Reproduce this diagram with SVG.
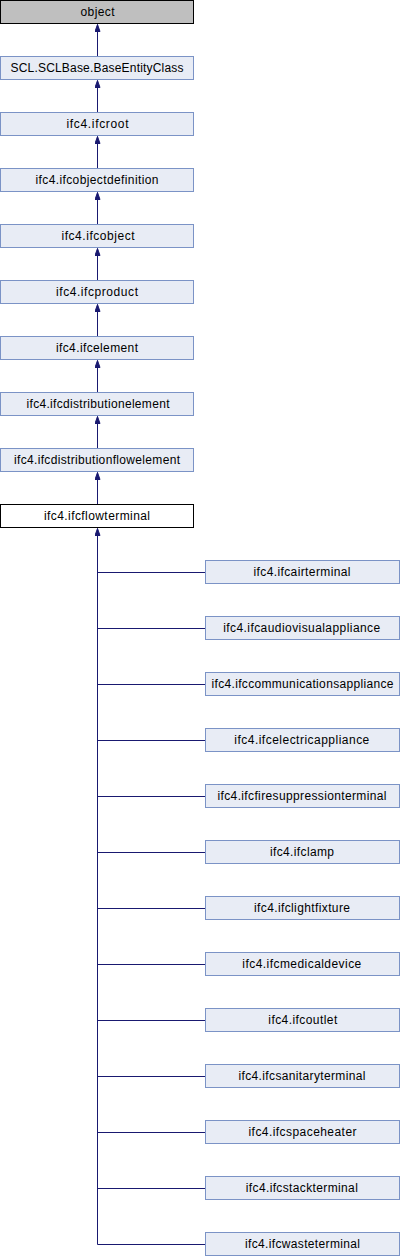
<svg xmlns="http://www.w3.org/2000/svg" width="400" height="1256" viewBox="0 0 400 1256">
<defs>
<style>
.n rect{fill:#e8ecf5;stroke:#7b93c6;stroke-width:1}
.n text{font-family:"Liberation Sans",Arial,sans-serif;font-size:12px;fill:#000;text-anchor:middle}
#object rect{fill:#bfbfbf;stroke:#000}
#flowterminal rect{fill:#fff;stroke:#000}
.e{stroke:#191970;stroke-width:1;fill:none}
</style>
<marker id="ah" markerWidth="10" markerHeight="10" refX="7" refY="3" orient="auto" markerUnits="userSpaceOnUse">
<path d="M0,0.5 L7,3 L0,5.5 z" fill="#191970" stroke="#191970" stroke-width="1"/>
</marker>
</defs>
<g id="edges">
<path class="e" d="M97.5,56 V24.5" marker-end="url(#ah)"/>
<path class="e" d="M97.5,112 V80.5" marker-end="url(#ah)"/>
<path class="e" d="M97.5,168 V136.5" marker-end="url(#ah)"/>
<path class="e" d="M97.5,224 V192.5" marker-end="url(#ah)"/>
<path class="e" d="M97.5,280 V248.5" marker-end="url(#ah)"/>
<path class="e" d="M97.5,336 V304.5" marker-end="url(#ah)"/>
<path class="e" d="M97.5,392 V360.5" marker-end="url(#ah)"/>
<path class="e" d="M97.5,448 V416.5" marker-end="url(#ah)"/>
<path class="e" d="M97.5,504 V472.5" marker-end="url(#ah)"/>
<path class="e" d="M97.5,1244.5 V528.5" marker-end="url(#ah)"/>
<path class="e" d="M97.5,572.5 H205 M97.5,628.5 H205 M97.5,684.5 H205 M97.5,740.5 H205 M97.5,796.5 H205 M97.5,852.5 H205 M97.5,908.5 H205 M97.5,964.5 H205 M97.5,1020.5 H205 M97.5,1076.5 H205 M97.5,1132.5 H205 M97.5,1188.5 H205 M97.5,1244.5 H205"/>
</g>
<g id="object" class="n"><rect x="0.5" y="0.5" width="193" height="23"/><text x="97.5" y="15.5" textLength="34" lengthAdjust="spacing">object</text></g>
<g id="baseentity" class="n"><rect x="0.5" y="56.5" width="193" height="23"/><text x="97" y="71.5" textLength="173" lengthAdjust="spacing">SCL.SCLBase.BaseEntityClass</text></g>
<g id="ifcroot" class="n"><rect x="0.5" y="112.5" width="193" height="23"/><text x="97.5" y="127.5" textLength="62" lengthAdjust="spacing">ifc4.ifcroot</text></g>
<g id="ifcobjectdefinition" class="n"><rect x="0.5" y="168.5" width="193" height="23"/><text x="97" y="183.5" textLength="123" lengthAdjust="spacing">ifc4.ifcobjectdefinition</text></g>
<g id="ifcobject" class="n"><rect x="0.5" y="224.5" width="193" height="23"/><text x="98" y="239.5" textLength="73" lengthAdjust="spacing">ifc4.ifcobject</text></g>
<g id="ifcproduct" class="n"><rect x="0.5" y="280.5" width="193" height="23"/><text x="97" y="295.5" textLength="82" lengthAdjust="spacing">ifc4.ifcproduct</text></g>
<g id="ifcelement" class="n"><rect x="0.5" y="336.5" width="193" height="23"/><text x="97" y="351.5" textLength="82" lengthAdjust="spacing">ifc4.ifcelement</text></g>
<g id="ifcdistributionelement" class="n"><rect x="0.5" y="392.5" width="193" height="23"/><text x="98" y="407.5" textLength="143" lengthAdjust="spacing">ifc4.ifcdistributionelement</text></g>
<g id="ifcdistributionflowelement" class="n"><rect x="0.5" y="448.5" width="193" height="23"/><text x="97" y="463.5" textLength="166" lengthAdjust="spacing">ifc4.ifcdistributionflowelement</text></g>
<g id="flowterminal" class="n"><rect x="0.5" y="504.5" width="193" height="23"/><text x="97" y="519.5" textLength="106" lengthAdjust="spacing">ifc4.ifcflowterminal</text></g>
<g id="ifcairterminal" class="n"><rect x="205.5" y="560.5" width="194" height="23"/><text x="302" y="575.5" textLength="97" lengthAdjust="spacing">ifc4.ifcairterminal</text></g>
<g id="ifcaudiovisualappliance" class="n"><rect x="205.5" y="616.5" width="194" height="23"/><text x="301.7" y="631.5" textLength="157" lengthAdjust="spacing">ifc4.ifcaudiovisualappliance</text></g>
<g id="ifccommunicationsappliance" class="n"><rect x="205.5" y="672.5" width="194" height="23"/><text x="302.5" y="687.5" textLength="182" lengthAdjust="spacing">ifc4.ifccommunicationsappliance</text></g>
<g id="ifcelectricappliance" class="n"><rect x="205.5" y="728.5" width="194" height="23"/><text x="301.8" y="743.5" textLength="135" lengthAdjust="spacing">ifc4.ifcelectricappliance</text></g>
<g id="ifcfiresuppressionterminal" class="n"><rect x="205.5" y="784.5" width="194" height="23"/><text x="302" y="799.5" textLength="169" lengthAdjust="spacing">ifc4.ifcfiresuppressionterminal</text></g>
<g id="ifclamp" class="n"><rect x="205.5" y="840.5" width="194" height="23"/><text x="302" y="855.5" textLength="64" lengthAdjust="spacing">ifc4.ifclamp</text></g>
<g id="ifclightfixture" class="n"><rect x="205.5" y="896.5" width="194" height="23"/><text x="302" y="911.5" textLength="96" lengthAdjust="spacing">ifc4.ifclightfixture</text></g>
<g id="ifcmedicaldevice" class="n"><rect x="205.5" y="952.5" width="194" height="23"/><text x="301.8" y="967.5" textLength="119" lengthAdjust="spacing">ifc4.ifcmedicaldevice</text></g>
<g id="ifcoutlet" class="n"><rect x="205.5" y="1008.5" width="194" height="23"/><text x="302.8" y="1023.5" textLength="69" lengthAdjust="spacing">ifc4.ifcoutlet</text></g>
<g id="ifcsanitaryterminal" class="n"><rect x="205.5" y="1064.5" width="194" height="23"/><text x="302" y="1079.5" textLength="127" lengthAdjust="spacing">ifc4.ifcsanitaryterminal</text></g>
<g id="ifcspaceheater" class="n"><rect x="205.5" y="1120.5" width="194" height="23"/><text x="302.5" y="1135.5" textLength="108" lengthAdjust="spacing">ifc4.ifcspaceheater</text></g>
<g id="ifcstackterminal" class="n"><rect x="205.5" y="1176.5" width="194" height="23"/><text x="301.8" y="1191.5" textLength="112" lengthAdjust="spacing">ifc4.ifcstackterminal</text></g>
<g id="ifcwasteterminal" class="n"><rect x="205.5" y="1232.5" width="194" height="23"/><text x="302.5" y="1247.5" textLength="115" lengthAdjust="spacing">ifc4.ifcwasteterminal</text></g>
</svg>
